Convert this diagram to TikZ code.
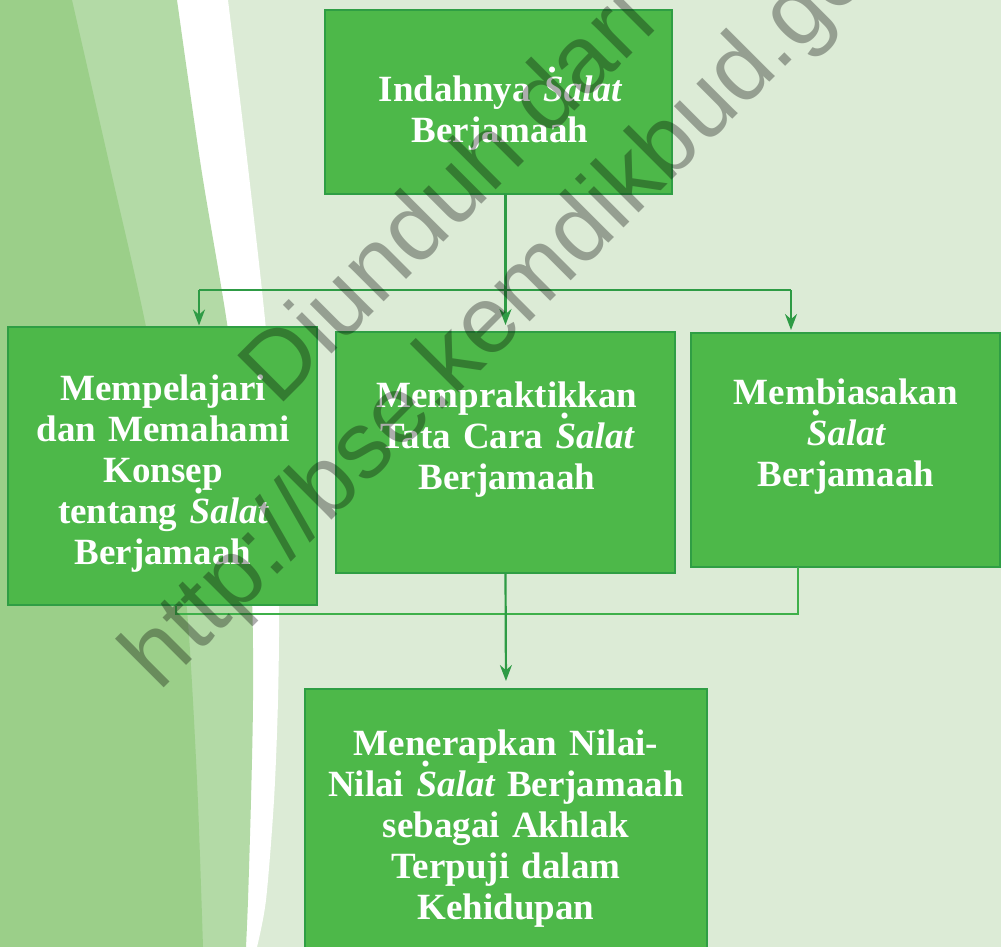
\documentclass[tikz,border=0pt]{standalone}
\usepackage{fontspec}
\setmainfont{Liberation Serif}
\newfontfamily\wmfont{Liberation Sans}
\usetikzlibrary{arrows.meta}
\definecolor{bgc}{HTML}{DCEBD6}
\definecolor{bandA}{HTML}{9BCF89}
\definecolor{bandB}{HTML}{B3DAA6}
\definecolor{boxfill}{HTML}{4DB849}
\definecolor{boxline}{HTML}{2F9E44}
\definecolor{connc}{HTML}{2E9B45}
\definecolor{connlight}{HTML}{3FB04A}
\newcommand\Sdt{{\ooalign{S\cr\hidewidth\raisebox{0.79em}[0pt][0pt]{.}\hidewidth\cr}}}
\begin{document}
\begin{tikzpicture}[x=1pt,y=-1pt,
  box/.style={draw=boxline, line width=2.5pt, fill=boxfill, inner sep=0pt, outer sep=0pt},
  txt/.style={text=white, font=\bfseries\fontsize{37}{41}\selectfont, align=center,
              text width=330pt, anchor=base, inner sep=0pt},
  wm/.style={font=\wmfont\fontsize{95}{110}\selectfont, text=black, text opacity=0.32,
             rotate=45, anchor=base, inner sep=0pt},
  link/.style={draw=connc, line width=2.2pt},
  arr/.style={link, -{Stealth[length=16pt,width=12pt]}},
  lowlink/.style={draw=connlight, line width=2.6pt}]
\useasboundingbox (0,0) rectangle (1001,947);
\clip (0,0) rectangle (1001,947);
% background
\fill[bgc] (0,0) rectangle (1001,947);
\fill[white] (0,0) -- plot[smooth] coordinates {(228,0) (248,167) (266,330) (276,470) (279,600) (278,700) (274,800) (266,900) (257,947)} -- (0,947) -- cycle;
\fill[bandB] (0,0) -- plot[smooth] coordinates {(177,0) (201,167) (228,330) (244,470) (252,600) (253,700) (251,800) (248,900) (246,947)} -- (0,947) -- cycle;
\fill[bandA] (0,0) -- plot[smooth] coordinates {(72,0) (110,167) (146,327) (170,470) (187,610) (197,780) (203,947)} -- (0,947) -- cycle;
% boxes
\node[box, minimum width=347pt, minimum height=184pt] (top) at (498.5,102) {};
\node[box, minimum width=309pt, minimum height=278pt] (left) at (162.5,466) {};
\node[box, minimum width=339pt, minimum height=241pt] (mid) at (505.5,452.5) {};
\node[box, minimum width=309pt, minimum height=234pt] (right) at (845.5,450) {};
\node[box, minimum width=402pt, minimum height=300pt] (bottom) at (506,839) {};
% texts
\node[txt] (toptxt) at (500,102) {Indahnya {\itshape\Sdt alat}\\Berjamaah};
\node[txt] (lefttxt) at (163,400) {Mempelajari\\dan Memahami\\Konsep\\tentang {\itshape\Sdt alat}\\Berjamaah};
\node[txt] (midtxt) at (507,407) {Mempraktikkan\\Tata Cara {\itshape\Sdt alat}\\Berjamaah};
\node[txt] (righttxt) at (846,404) {Membiasakan\\{\itshape\Sdt alat}\\Berjamaah};
\node[txt, text width=390pt] (bottomtxt) at (506,755) {Menerapkan Nilai-\\Nilai {\itshape\Sdt alat} Berjamaah\\sebagai Akhlak\\Terpuji dalam\\Kehidupan};
% connectors
\coordinate (jl) at (199,290);
\coordinate (jr) at (791,290);
\coordinate (jm) at (mid.north |- jl);
\draw[link] (top.south -| mid.north) -- (jm);
\draw[link] (jl) -- (jr);
\draw[arr, shorten >=1.5pt] (jl) -- (jl |- left.north);
\draw[arr, shorten >=7pt] (jm) -- (mid.north);
\draw[arr, shorten >=3pt] (jr) -- (jr |- right.north);
\coordinate (bl) at (176,614);
\coordinate (br) at (798,614);
\draw[lowlink] (left.south -| bl) -- (bl) -- (br) -- (right.south -| br);
\draw[arr, shorten >=8pt] (mid.south) -- (bottom.north);
% watermark
\node[wm] (wm1) at (469,217) {Diunduh dari};
\node[wm] (wm2) at (552,300) {http://bse.kemdikbud.go.id};
\end{tikzpicture}
\end{document}
